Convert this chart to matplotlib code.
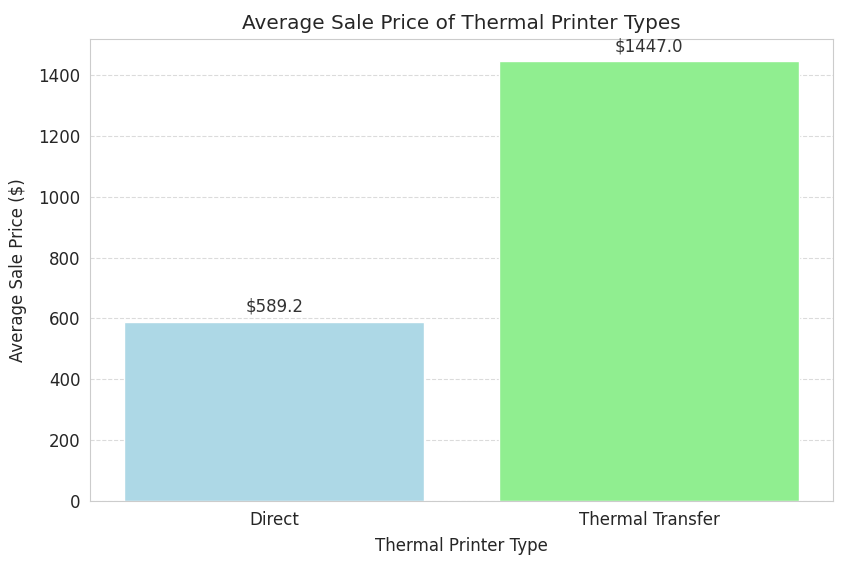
import matplotlib
matplotlib.use('Agg')
import matplotlib.pyplot as plt
import seaborn as sns

# data
printer_types = ['Direct', 'Thermal Transfer']
avg_prices = [589.2, 1447.0]
bar_colors = ['lightblue', 'lightgreen']

sns.set_style('whitegrid')
plt.rcParams['font.family'] = ['DejaVu Sans']

fig, ax = plt.subplots(figsize=(8.45, 5.64), dpi=100)
bars = ax.bar(printer_types, avg_prices, color=bar_colors)

# value labels above the bars
for bar, price in zip(bars, avg_prices):
    ax.text(bar.get_x() + bar.get_width() / 2, bar.get_height() + 19,
            f'${price:.1f}', ha='center', va='bottom', fontsize=12, color='#333333')

ax.set_title('Average Sale Price of Thermal Printer Types', fontsize=14.4, color='#262626', pad=7)
ax.set_xlabel('Thermal Printer Type', fontsize=12, color='#262626', labelpad=6)
ax.set_ylabel('Average Sale Price ($)', fontsize=12, color='#262626', labelpad=8)
ax.tick_params(labelsize=12, colors='#262626')
ax.grid(axis='x', visible=False)
ax.grid(axis='y', linestyle='--', alpha=0.7)
ax.set_axisbelow(True)

fig.subplots_adjust(left=0.107, right=0.986, top=0.931, bottom=0.112)
fig.savefig('out.png')
